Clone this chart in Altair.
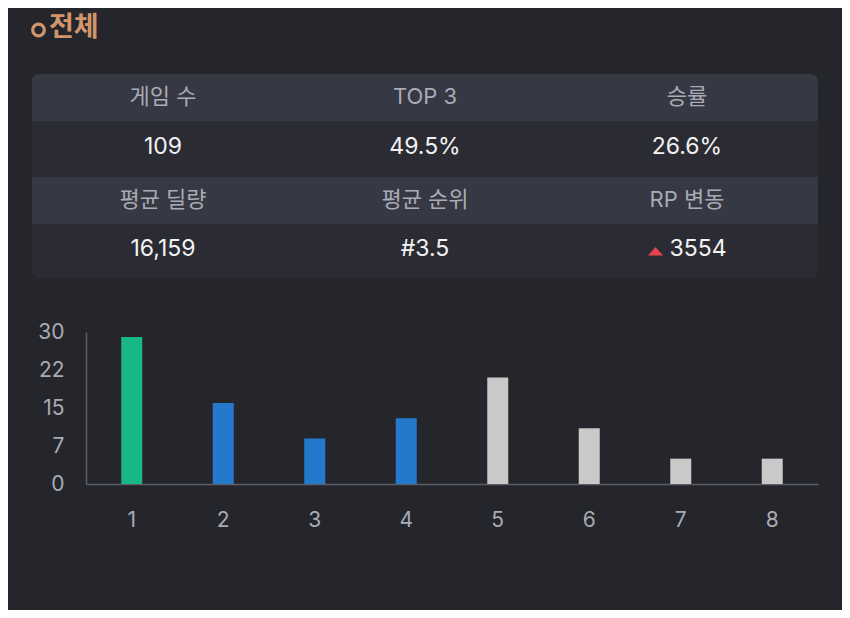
import altair as alt
import pandas as pd

# ---------------- data ----------------
ranks = [1, 2, 3, 4, 5, 6, 7, 8]
counts = [29, 16, 9, 13, 21, 11, 5, 5]
groups = ["1위", "TOP 3", "TOP 3", "TOP 3", "기타", "기타", "기타", "기타"]
y_tick_values = [0, 7.5, 15, 22.5, 30]

stat_labels = ["게임 수", "TOP 3", "승률", "평균 딜량", "평균 순위", "RP 변동"]
stat_values = ["109", "49.5%", "26.6%", "16,159", "#3.5", "3554"]
stat_rising = [False, False, False, False, False, True]

title_text = "전체"

# ---------------- styles ----------------
FONT = "Inter, Noto Sans CJK KR"
BG = "#25262b"
HEADER_BG = "#363844"
VALUE_BG = "#2b2c33"
LABEL_COLOR = "#a9abb5"
VALUE_COLOR = "#f2f2f4"
AXIS_COLOR = "#5b5d67"
TITLE_COLOR = "#d3956b"
UP_COLOR = "#e8424f"
GROUP_DOMAIN = ["1위", "TOP 3", "기타"]
GROUP_COLORS = ["#17b886", "#2479cc", "#c9c9c9"]

N_COLS = 3

# ---------------- tables ----------------
bar_df = pd.DataFrame({"rank": ranks, "count": counts, "group": groups})

cells = []
for i, (lab, val, up) in enumerate(zip(stat_labels, stat_values, stat_rising)):
    col = i % N_COLS
    pair = i // N_COLS
    cells.append({"col": col, "row": 2 * pair, "text": lab, "kind": "label", "up": False})
    cells.append({"col": col, "row": 2 * pair + 1, "text": val, "kind": "value", "up": up})
cell_df = pd.DataFrame(cells)
cell_df["cx"] = cell_df["col"] + 0.5
cell_df["cy"] = cell_df["row"] + 0.5
n_rows = int(cell_df["row"].max()) + 1

row_df = pd.DataFrame({"row": list(range(n_rows))})
row_df["kind"] = ["label" if r % 2 == 0 else "value" for r in row_df["row"]]
row_df["c0"] = 0
row_df["c1"] = N_COLS
row_df["r0"] = row_df["row"]
row_df["r1"] = row_df["row"] + 1

frame_df = pd.DataFrame({"c0": [0], "c1": [N_COLS], "r0": [0], "r1": [n_rows]})
title_df = pd.DataFrame({"t": [title_text]})

# ---------------- scales for the table (header rows shorter than value rows) ----------------
tx = alt.Scale(domain=[0, N_COLS], range=[-54, 732], nice=False, zero=False)
ty = alt.Scale(domain=[0, 1, 2, 3, 4], range=[-258, -211, -155, -108, -54],
               nice=False, zero=False)

# ---------------- bar chart ----------------
bars = alt.Chart(bar_df).mark_bar(size=21).encode(
    x=alt.X(
        "rank:O",
        scale=alt.Scale(paddingInner=0, paddingOuter=0),
        axis=alt.Axis(
            title=None, labelAngle=0, ticks=False, tickSize=0, grid=False,
            domainColor=AXIS_COLOR, domainWidth=1.5,
            labelColor=LABEL_COLOR, labelFont=FONT, labelFontSize=21,
            labelPadding=25,
        ),
    ),
    y=alt.Y(
        "count:Q",
        scale=alt.Scale(domain=[0, 30], nice=False, zero=True),
        axis=alt.Axis(
            title=None, values=y_tick_values, labelExpr="'' + floor(datum.value)",
            ticks=False, tickSize=0, grid=False,
            domainColor=AXIS_COLOR, domainWidth=1.5,
            labelColor=LABEL_COLOR, labelFont=FONT, labelFontSize=21,
            labelPadding=22,
        ),
    ),
    color=alt.Color(
        "group:N",
        scale=alt.Scale(domain=GROUP_DOMAIN, range=GROUP_COLORS),
        legend=None,
    ),
)

# ---------------- stats table ----------------
frame = alt.Chart(frame_df).mark_rect(cornerRadius=7, color=VALUE_BG).encode(
    x=alt.X("c0:Q", scale=tx, axis=None),
    x2="c1:Q",
    y=alt.Y("r0:Q", scale=ty, axis=None),
    y2="r1:Q",
)

header_top = alt.Chart(row_df).transform_filter(
    "datum.kind == 'label' && datum.row == 0"
).mark_rect(cornerRadiusTopLeft=7, cornerRadiusTopRight=7, color=HEADER_BG).encode(
    x=alt.X("c0:Q", scale=tx, axis=None),
    x2="c1:Q",
    y=alt.Y("r0:Q", scale=ty, axis=None),
    y2="r1:Q",
)

header_rest = alt.Chart(row_df).transform_filter(
    "datum.kind == 'label' && datum.row > 0"
).mark_rect(color=HEADER_BG).encode(
    x=alt.X("c0:Q", scale=tx, axis=None),
    x2="c1:Q",
    y=alt.Y("r0:Q", scale=ty, axis=None),
    y2="r1:Q",
)

labels = alt.Chart(cell_df).transform_filter("datum.kind == 'label'").mark_text(
    font=FONT, fontSize=22, color=LABEL_COLOR, align="center", baseline="middle", dy=-1
).encode(
    x=alt.X("cx:Q", scale=tx, axis=None),
    y=alt.Y("cy:Q", scale=ty, axis=None),
    text="text:N",
)

values = alt.Chart(cell_df).transform_filter(
    "datum.kind == 'value' && !datum.up"
).mark_text(
    font=FONT, fontSize=23, color=VALUE_COLOR, align="center", baseline="middle", dy=-2
).encode(
    x=alt.X("cx:Q", scale=tx, axis=None),
    y=alt.Y("cy:Q", scale=ty, axis=None),
    text="text:N",
)

values_up = alt.Chart(cell_df).transform_filter(
    "datum.kind == 'value' && datum.up"
).mark_text(
    font=FONT, fontSize=23, color=VALUE_COLOR, align="center", baseline="middle", dx=11, dy=-2
).encode(
    x=alt.X("cx:Q", scale=tx, axis=None),
    y=alt.Y("cy:Q", scale=ty, axis=None),
    text="text:N",
)

up_arrow = alt.Chart(cell_df).transform_filter(
    "datum.kind == 'value' && datum.up"
).mark_point(
    shape="M-39,4.5L-24,4.5L-31.5,-4Z", size=4, filled=True, color=UP_COLOR,
    opacity=1, strokeWidth=0,
).encode(
    x=alt.X("cx:Q", scale=tx, axis=None),
    y=alt.Y("cy:Q", scale=ty, axis=None),
)

# ---------------- section title ----------------
title_mark = alt.Chart(title_df).mark_text(
    font=FONT, fontSize=27, fontWeight="bold", color=TITLE_COLOR,
    align="left", baseline="middle",
).encode(
    x=alt.value(-37),
    y=alt.value(-304),
    text="t:N",
)

title_icon = alt.Chart(title_df).mark_point(
    shape="circle", filled=False, size=135, strokeWidth=3.2, color=TITLE_COLOR, opacity=1,
).encode(
    x=alt.value(-47.5),
    y=alt.value(-302),
)

chart = alt.layer(
    frame, header_top, header_rest, labels, values, values_up, up_arrow,
    title_icon, title_mark, bars,
).resolve_scale(
    x="independent", y="independent", color="independent"
).properties(
    width=732,
    height=152,
    padding={"left": 78, "top": 324, "right": 24, "bottom": 126},
    autosize=alt.AutoSizeParams(type="none"),
    background=BG,
).configure_view(stroke=None)

chart.save("out.html", embed_options={"renderer": "svg", "actions": False})
